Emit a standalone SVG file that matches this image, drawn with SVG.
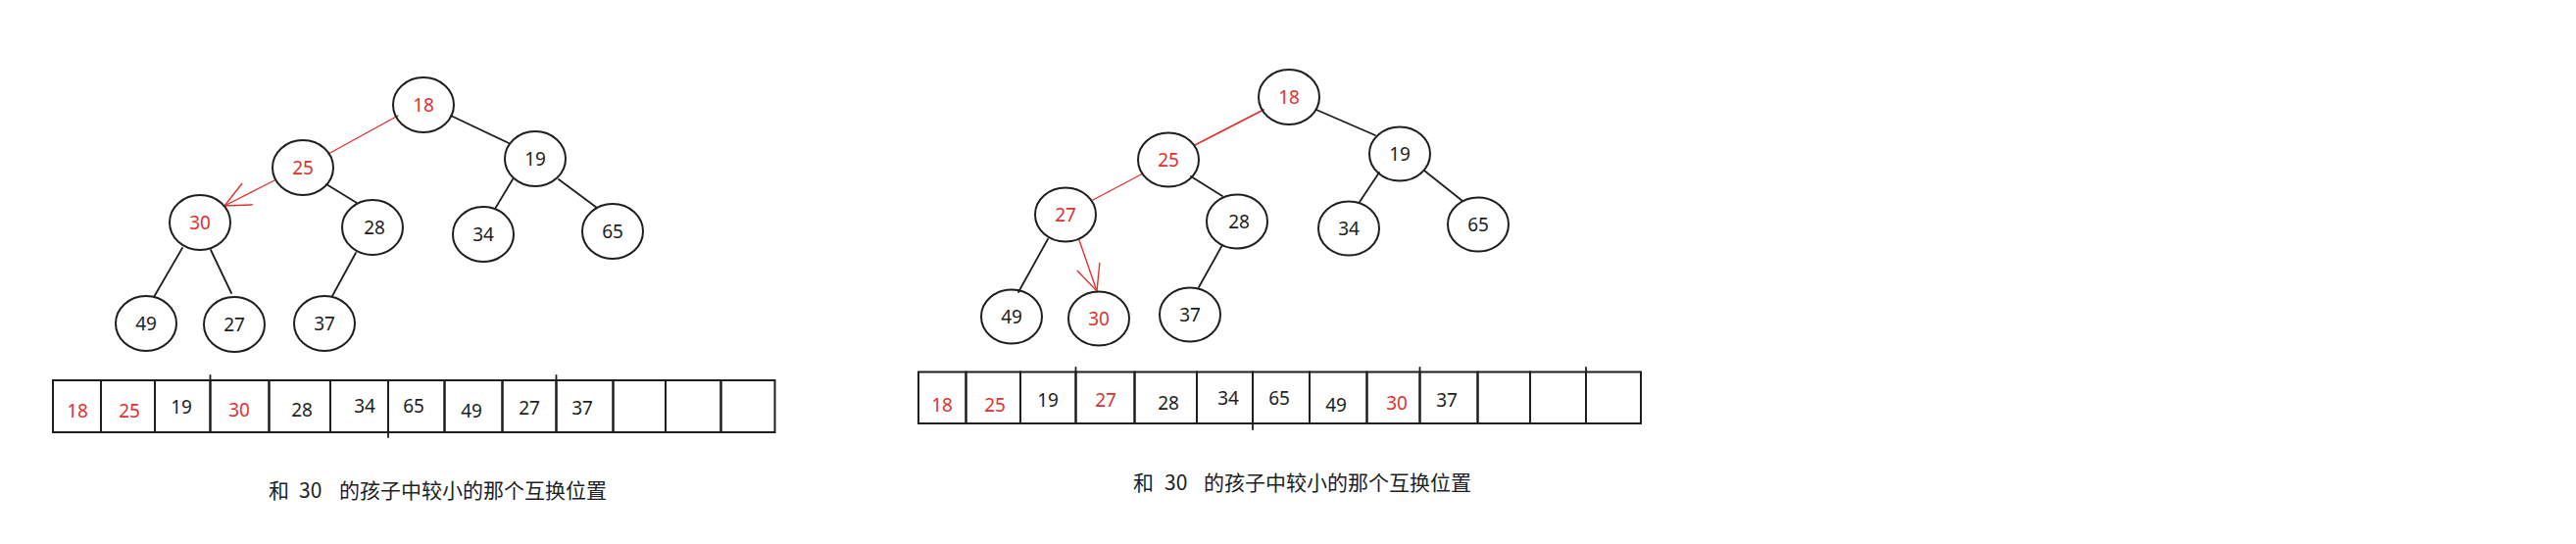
<svg xmlns="http://www.w3.org/2000/svg" width="2628" height="555" viewBox="0 0 2628 555">
<style>
.bg{fill:#ffffff}
.node{fill:none;stroke:#1e1e1e;stroke-width:2}
.cell{fill:none;stroke:#1e1e1e;stroke-width:2}
.t{font-family:"Noto Sans","Liberation Sans",sans-serif;font-size:19px;text-anchor:middle;fill:#1e1e1e}
.r{fill:#e03131}
.e{stroke:#1e1e1e;stroke-width:1.8;fill:none;stroke-linecap:round}
.er{stroke:#e03131;stroke-width:1.4;fill:none;stroke-linecap:round}
.cap{font-family:"Noto Sans CJK SC","Noto Sans",sans-serif;font-size:21px;fill:#1e1e1e}
</style>
<defs>
<marker id="arr" markerUnits="userSpaceOnUse" markerWidth="40" markerHeight="40" refX="0" refY="0" orient="auto" overflow="visible">
<path d="M-26,-12 L0,0 L-26,12" fill="none" stroke="#e03131" stroke-width="1.4" stroke-linecap="round"/>
</marker>
</defs>
<rect class="bg" x="0" y="0" width="2628" height="555"/>

<g id="connectors">
<line class="er" x1="406" y1="118" x2="335" y2="157"/>
<line class="e" x1="460" y1="118" x2="519" y2="146"/>
<line class="er" x1="280" y1="184" x2="229" y2="210" marker-end="url(#arr)"/>
<line class="e" x1="333" y1="188" x2="364" y2="207"/>
<line class="e" x1="523" y1="183" x2="505" y2="213"/>
<line class="e" x1="570" y1="183" x2="609" y2="212"/>
<line class="e" x1="186" y1="253" x2="157" y2="303"/>
<line class="e" x1="215" y1="255" x2="236" y2="299"/>
<line class="e" x1="363" y1="258" x2="339" y2="302"/>

<line class="er" x1="1289" y1="112" x2="1219" y2="148" style="stroke-width:1.8"/>
<line class="e" x1="1343" y1="112" x2="1403" y2="138"/>
<line class="er" x1="1166" y1="177" x2="1115" y2="204"/>
<line class="e" x1="1215" y1="180" x2="1247" y2="200"/>
<line class="e" x1="1407" y1="176" x2="1387" y2="206"/>
<line class="e" x1="1453" y1="174" x2="1492" y2="205"/>
<line class="e" x1="1069" y1="244" x2="1039" y2="298"/>
<line class="er" x1="1101" y1="245" x2="1119" y2="297" marker-end="url(#arr)"/>
<line class="e" x1="1247" y1="250" x2="1223" y2="293"/>
</g>

<g id="L18"><ellipse class="node" cx="432" cy="107" rx="31" ry="28"/><text class="t r" x="432" y="114">18</text></g>
<g id="L25"><ellipse class="node" cx="309" cy="171" rx="31" ry="28"/><text class="t r" x="309" y="178">25</text></g>
<g id="L19"><ellipse class="node" cx="546" cy="162" rx="31" ry="28"/><text class="t" x="546" y="169">19</text></g>
<g id="L30"><ellipse class="node" cx="204" cy="227" rx="31" ry="28"/><text class="t r" x="204" y="234">30</text></g>
<g id="L28"><ellipse class="node" cx="380" cy="232" rx="31" ry="28"/><text class="t" x="382" y="239">28</text></g>
<g id="L34"><ellipse class="node" cx="493" cy="239" rx="31" ry="28"/><text class="t" x="493" y="246">34</text></g>
<g id="L65"><ellipse class="node" cx="625" cy="236" rx="31" ry="28"/><text class="t" x="625" y="243">65</text></g>
<g id="L49"><ellipse class="node" cx="149" cy="330" rx="31" ry="28"/><text class="t" x="149" y="337">49</text></g>
<g id="L27"><ellipse class="node" cx="239" cy="331" rx="31" ry="28"/><text class="t" x="239" y="338">27</text></g>
<g id="L37"><ellipse class="node" cx="331" cy="330" rx="31" ry="28"/><text class="t" x="331" y="337">37</text></g>

<g id="R18"><ellipse class="node" cx="1315" cy="99" rx="31" ry="28"/><text class="t r" x="1315" y="106">18</text></g>
<g id="R25"><ellipse class="node" cx="1192" cy="163" rx="31" ry="27.5"/><text class="t r" x="1192" y="170">25</text></g>
<g id="R19"><ellipse class="node" cx="1428" cy="157" rx="31" ry="27.5"/><text class="t" x="1428" y="164">19</text></g>
<g id="R27"><ellipse class="node" cx="1087" cy="219" rx="31" ry="27.5"/><text class="t r" x="1087" y="226">27</text></g>
<g id="R28"><ellipse class="node" cx="1262" cy="226" rx="31" ry="27.5"/><text class="t" x="1264" y="233">28</text></g>
<g id="R34"><ellipse class="node" cx="1376" cy="233" rx="31" ry="27.5"/><text class="t" x="1376" y="240">34</text></g>
<g id="R65"><ellipse class="node" cx="1508" cy="229" rx="31" ry="27.5"/><text class="t" x="1508" y="236">65</text></g>
<g id="R49"><ellipse class="node" cx="1032" cy="323" rx="31" ry="27.5"/><text class="t" x="1032" y="330">49</text></g>
<g id="R30"><ellipse class="node" cx="1121" cy="325" rx="31" ry="27.5"/><text class="t r" x="1121" y="332">30</text></g>
<g id="R37"><ellipse class="node" cx="1214" cy="321" rx="31" ry="27.5"/><text class="t" x="1214" y="328">37</text></g>

<g id="leftArray">
<g id="LA0"><rect class="cell" x="54" y="388" width="49" height="53"/><text class="t r" x="79" y="426">18</text></g>
<g id="LA1"><rect class="cell" x="103" y="388" width="55" height="53"/><text class="t r" x="132" y="426">25</text></g>
<g id="LA2"><rect class="cell" x="158" y="388" width="56.5" height="53"/><text class="t" x="185" y="422">19</text></g>
<g id="LA3"><rect class="cell" x="214.5" y="388" width="60" height="53"/><text class="t r" x="244" y="425">30</text></g>
<g id="LA4"><rect class="cell" x="274.5" y="388" width="62.5" height="53"/><text class="t" x="308" y="425">28</text></g>
<g id="LA5"><rect class="cell" x="337" y="388" width="59" height="53"/><text class="t" x="372" y="421">34</text></g>
<g id="LA6"><rect class="cell" x="396" y="388" width="57.5" height="53"/><text class="t" x="422" y="421">65</text></g>
<g id="LA7"><rect class="cell" x="453.5" y="388" width="59" height="53"/><text class="t" x="481" y="426">49</text></g>
<g id="LA8"><rect class="cell" x="512.5" y="388" width="55" height="53"/><text class="t" x="540" y="423">27</text></g>
<g id="LA9"><rect class="cell" x="567.5" y="388" width="58" height="53"/><text class="t" x="594" y="423">37</text></g>
<g id="LA10"><rect class="cell" x="625.5" y="388" width="53.5" height="53"/></g>
<g id="LA11"><rect class="cell" x="679" y="388" width="56.5" height="53"/></g>
<g id="LA12"><rect class="cell" x="735.5" y="388" width="55" height="53"/></g>
<line class="e" x1="214.5" y1="383" x2="214.5" y2="388"/>
<line class="e" x1="396" y1="441" x2="396" y2="446"/>
<line class="e" x1="567.5" y1="383" x2="567.5" y2="388"/>
</g>

<g id="rightArray">
<g id="RA0"><rect class="cell" x="937" y="379.5" width="48.5" height="52.5"/><text class="t r" x="961" y="420">18</text></g>
<g id="RA1"><rect class="cell" x="985.5" y="379.5" width="55.5" height="52.5"/><text class="t r" x="1015" y="420">25</text></g>
<g id="RA2"><rect class="cell" x="1041" y="379.5" width="56.5" height="52.5"/><text class="t" x="1069" y="415">19</text></g>
<g id="RA3"><rect class="cell" x="1097.5" y="379.5" width="60" height="52.5"/><text class="t r" x="1128" y="415">27</text></g>
<g id="RA4"><rect class="cell" x="1157.5" y="379.5" width="63.5" height="52.5"/><text class="t" x="1192" y="418">28</text></g>
<g id="RA5"><rect class="cell" x="1221" y="379.5" width="57" height="52.5"/><text class="t" x="1253" y="413">34</text></g>
<g id="RA6"><rect class="cell" x="1278" y="379.5" width="58" height="52.5"/><text class="t" x="1305" y="413">65</text></g>
<g id="RA7"><rect class="cell" x="1336" y="379.5" width="58.5" height="52.5"/><text class="t" x="1363" y="420">49</text></g>
<g id="RA8"><rect class="cell" x="1394.5" y="379.5" width="54" height="52.5"/><text class="t r" x="1425" y="418">30</text></g>
<g id="RA9"><rect class="cell" x="1448.5" y="379.5" width="59" height="52.5"/><text class="t" x="1476" y="415">37</text></g>
<g id="RA10"><rect class="cell" x="1507.5" y="379.5" width="53.5" height="52.5"/></g>
<g id="RA11"><rect class="cell" x="1561" y="379.5" width="57" height="52.5"/></g>
<g id="RA12"><rect class="cell" x="1618" y="379.5" width="56" height="52.5"/></g>
<line class="e" x1="1097.5" y1="375" x2="1097.5" y2="379.5"/>
<line class="e" x1="1278" y1="432" x2="1278" y2="438"/>
<line class="e" x1="1448.5" y1="375" x2="1448.5" y2="379.5"/>
<line class="e" x1="1618" y1="375" x2="1618" y2="379.5"/>
</g>

<g id="captionLeft"><text class="cap" y="508"><tspan x="274">和</tspan><tspan x="305">30</tspan><tspan x="346">的孩子中较小的那个互换位置</tspan></text></g>
<g id="captionRight"><text class="cap" y="500"><tspan x="1156">和</tspan><tspan x="1188">30</tspan><tspan x="1228">的孩子中较小的那个互换位置</tspan></text></g>
</svg>
